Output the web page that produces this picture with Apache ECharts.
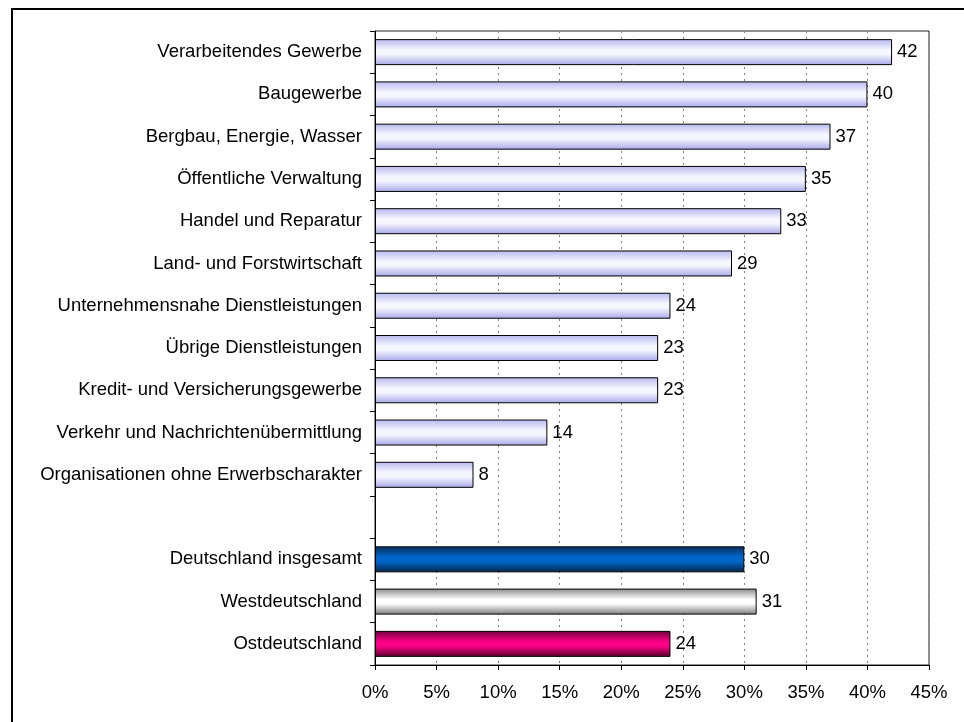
<!DOCTYPE html>
<html>
<head>
<meta charset="utf-8">
<title>Anteil nach Wirtschaftszweigen</title>
<script src="https://cdn.jsdelivr.net/npm/echarts@6/dist/echarts.min.js"></script>
<style>
  html, body {
    margin: 0;
    padding: 0;
    background: #ffffff;
  }

  #chart {
    width: 964px;
    height: 722px;
  }
</style>
</head>
<body>
<div id="chart"></div>
<script>
// Wirtschaftszweige (oben) und Regionen (unten), Werte in Prozent
const sectorNames = [
  'Verarbeitendes Gewerbe',
  'Baugewerbe',
  'Bergbau, Energie, Wasser',
  'Öffentliche Verwaltung',
  'Handel und Reparatur',
  'Land- und Forstwirtschaft',
  'Unternehmensnahe Dienstleistungen',
  'Übrige Dienstleistungen',
  'Kredit- und Versicherungsgewerbe',
  'Verkehr und Nachrichtenübermittlung',
  'Organisationen ohne Erwerbscharakter',
]
const sectorValues = [42, 40, 37, 35, 33, 29, 24, 23, 23, 14, 8]

const regionNames = ['Deutschland insgesamt', 'Westdeutschland', 'Ostdeutschland']
const regionValues = [30, 31, 24]

const xTicks = [0, 5, 10, 15, 20, 25, 30, 35, 40, 45]

const FONT_SIZE = 18.5

// Farbverläufe (oben dunkel, Mitte hell, unten dunkel)
const gradient = (top, mid, bottom) => new echarts.graphic.LinearGradient(0, 0, 0, 1, [
  { offset: 0, color: top },
  { offset: 0.42, color: mid },
  { offset: 0.58, color: mid },
  { offset: 1, color: bottom },
])

const sectorFill = () => gradient('#b8b8f0', '#f6f6ff', '#a8a8e8')
const regionFills = [
  () => gradient('#0a2f5c', '#0066cc', '#062447'),
  () => gradient('#8a8a8a', '#ffffff', '#7a7a7a'),
  () => gradient('#6e003a', '#ff0088', '#55002c'),
]

// Leerzeile zwischen den beiden Gruppen
const categories = [...sectorNames, '', ...regionNames]

const barData = [
  ...sectorValues.map((v) => ({
    value: v,
    itemStyle: { color: sectorFill() },
  })),
  { value: null },
  ...regionValues.map((v, i) => ({
    value: v,
    itemStyle: { color: regionFills[i]() },
  })),
]

const chart = echarts.init(document.getElementById('chart'))

chart.setOption({
  animation: false,
  textStyle: {
    fontFamily: '"Liberation Sans", Arial, sans-serif',
  },
  graphic: [
    {
      type: 'rect',
      shape: { x: 12, y: 9, width: 1000, height: 1000 },
      style: { fill: 'none', stroke: '#000', lineWidth: 2 },
      silent: true,
    },
  ],
  grid: {
    left: 375,
    right: 35,
    top: 31,
    bottom: 57,
    show: true,
    borderColor: '#222',
    borderWidth: 1,
  },
  xAxis: {
    type: 'value',
    min: xTicks[0],
    max: xTicks[xTicks.length - 1],
    interval: xTicks[1] - xTicks[0],
    axisLine: {
      show: true,
      lineStyle: { color: '#000', width: 1 },
    },
    axisTick: {
      show: true,
      length: 5,
      lineStyle: { color: '#000' },
    },
    axisLabel: {
      color: '#000',
      fontSize: FONT_SIZE,
      margin: 18,
      formatter: '{value}%',
    },
    splitLine: {
      show: true,
      lineStyle: { color: '#808080', type: [2, 4], width: 1 },
    },
  },
  yAxis: {
    type: 'category',
    inverse: true,
    data: categories,
    axisLine: {
      show: true,
      lineStyle: { color: '#000', width: 1 },
    },
    axisTick: {
      show: true,
      length: 5,
      lineStyle: { color: '#000' },
    },
    axisLabel: {
      color: '#000',
      fontSize: FONT_SIZE,
      margin: 13,
    },
    splitLine: { show: false },
  },
  series: [
    {
      type: 'bar',
      data: barData,
      barWidth: 26,
      itemStyle: {
        borderColor: '#000',
        borderWidth: 1,
      },
      label: {
        show: true,
        position: 'right',
        distance: 5,
        color: '#000',
        fontSize: FONT_SIZE,
      },
    },
  ],
})
</script>
</body>
</html>
